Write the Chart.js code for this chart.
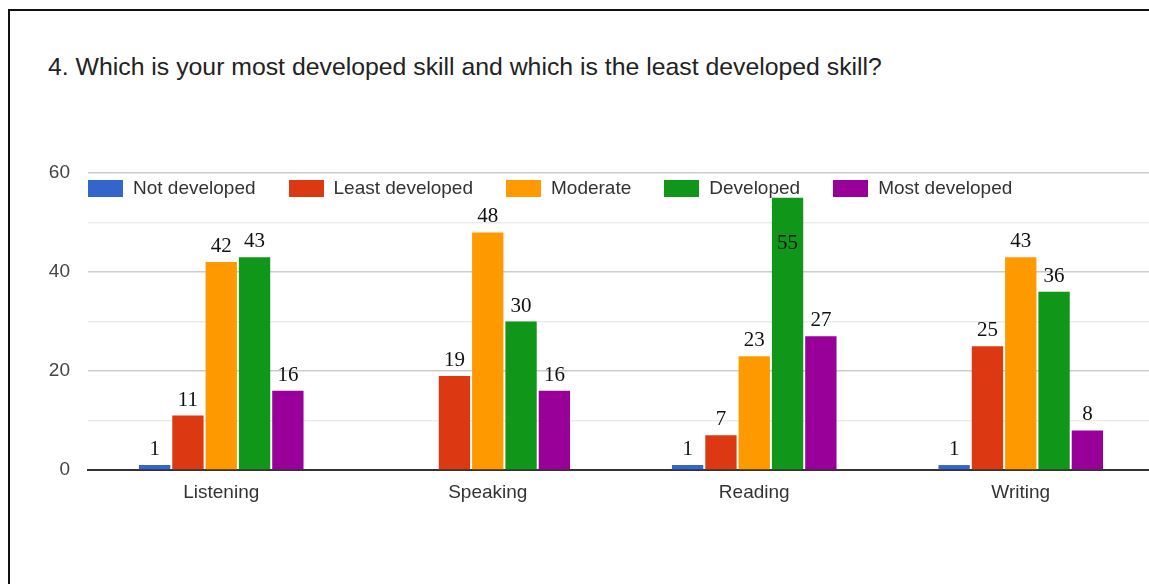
<!DOCTYPE html>
<html>
<head>
<meta charset="utf-8">
<script src="https://cdn.jsdelivr.net/npm/chart.js@4"></script>
<style>
  body { margin: 0; background: #fff; width: 1149px; height: 584px; overflow: hidden; position: relative; font-family: "Liberation Sans", Arial, sans-serif; }
  #frame { position: absolute; left: 8px; top: 9px; width: 1160px; height: 600px; border-top: 2px solid #111; border-left: 2px solid #111; }
  #title { position: absolute; left: 48px; top: 53px; font-size: 24.8px; color: #222; white-space: nowrap; }
  #wrap { position: absolute; left: 0; top: 0; width: 1154px; height: 584px; }
  #legend { position: absolute; left: 88px; top: 177px; display: flex; font-size: 19px; color: #333; white-space: nowrap; }
  .item { display: flex; align-items: center; margin-right: 33px; }
  .box { width: 35px; height: 17px; margin-right: 10px; }
</style>
</head>
<body>
<div id="frame"></div>
<div id="title">4. Which is your most developed skill and which is the least developed skill?</div>
<div id="wrap"><canvas id="myChart"></canvas></div>
<div id="legend"></div>
<script>
// データ
const skills = ['Listening', 'Speaking', 'Reading', 'Writing'];
const seriesNames = ['Not developed', 'Least developed', 'Moderate', 'Developed', 'Most developed'];
const notDeveloped = [1, 0, 1, 1];
const leastDeveloped = [11, 19, 7, 25];
const moderate = [42, 48, 23, 43];
const developed = [43, 30, 55, 36];
const mostDeveloped = [16, 16, 27, 8];
const yTicks = [0, 20, 40, 60];

const colors = ['#3366cc', '#dc3912', '#ff9900', '#109618', '#990099'];
const values = [notDeveloped, leastDeveloped, moderate, developed, mostDeveloped];

// 凡例 (HTML)
const legend = document.getElementById('legend');
seriesNames.forEach((name, i) => {
    const item = document.createElement('div');
    item.className = 'item';
    item.innerHTML = '<span class="box" style="background:' + colors[i] + '"></span>' + name;
    legend.appendChild(item);
});

// 棒の上に数値を描くプラグイン
const valueLabels = {
    id: 'valueLabels',
    afterDatasetsDraw(chart) {
        const ctx = chart.ctx;
        ctx.save();
        ctx.font = '21px "Liberation Serif", "Times New Roman", serif';
        ctx.fillStyle = '#111';
        ctx.textAlign = 'center';
        ctx.textBaseline = 'bottom';
        chart.data.datasets.forEach((ds, i) => {
            chart.getDatasetMeta(i).data.forEach((bar, j) => {
                const v = ds.data[j];
                if (!v) return;
                let y = bar.y - 5;
                // 凡例と重なる場合は棒の中に描く
                if (y - 20 < 200) y = bar.y + 56;
                ctx.fillText(String(v), bar.x, y);
            });
        });
        ctx.restore();
    }
};

function drawChart() {
    const ctx = document.getElementById('myChart').getContext('2d');

    const data = {
        labels: skills,
        datasets: seriesNames.map((name, i) => ({
            label: name,
            data: values[i],
            backgroundColor: colors[i],
            borderWidth: 0,
            barPercentage: 0.94,
            categoryPercentage: 0.625
        }))
    };

    const config = {
        type: 'bar',
        data: data,
        options: {
            responsive: false,
            animation: false,
            layout: { padding: { top: 173, left: 0, right: 0, bottom: 0 } },
            plugins: {
                legend: { display: false },
                tooltip: { enabled: false }
            },
            scales: {
                x: {
                    grid: { display: false, drawTicks: false },
                    border: { color: '#333', width: 2 },
                    ticks: { color: '#333', font: { size: 19, family: '"Liberation Sans", Arial' }, padding: 11 },
                    afterFit: (s) => { s.height = 114; }
                },
                y: {
                    min: 0,
                    max: 60,
                    grid: {
                        drawTicks: false,
                        color: (c) => (c.tick && c.tick.value % 20 === 0) ? '#cccccc' : '#ebebeb',
                        lineWidth: 1.5
                    },
                    border: { display: false },
                    ticks: {
                        stepSize: 10,
                        padding: 18,
                        color: '#444',
                        font: { size: 19, family: '"Liberation Sans", Arial' },
                        callback: (v) => yTicks.includes(v) ? v : ''
                    },
                    afterFit: (s) => { s.width = 88; }
                }
            }
        },
        plugins: [valueLabels]
    };

    const canvas = document.getElementById('myChart');
    canvas.width = 1154;
    canvas.height = 584;
    new Chart(ctx, config);
}

window.onload = drawChart;
</script>
</body>
</html>
